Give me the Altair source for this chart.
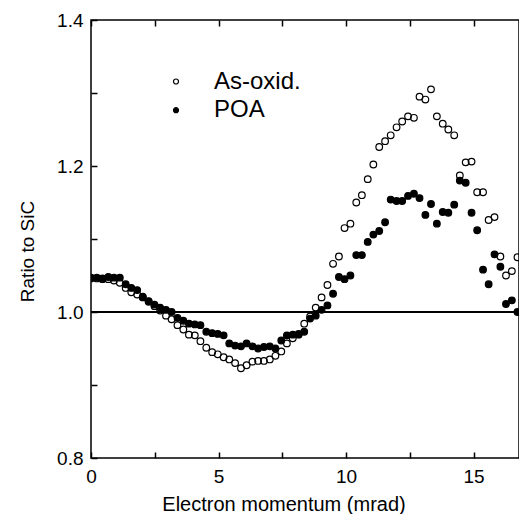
import altair as alt
import pandas as pd

FONT = "Liberation Sans, Arial, Helvetica, sans-serif"

# Electron momentum (mrad) grid
X = [0.00, 0.23, 0.45, 0.68, 0.90, 1.13, 1.36, 1.58, 1.81, 2.03,
     2.26, 2.49, 2.71, 2.94, 3.16, 3.39, 3.62, 3.84, 4.07, 4.29,
     4.52, 4.75, 4.97, 5.20, 5.42, 5.65, 5.88, 6.10, 6.33, 6.55,
     6.78, 7.01, 7.23, 7.46, 7.68, 7.91, 8.14, 8.36, 8.59, 8.81,
     9.04, 9.27, 9.49, 9.72, 9.94, 10.17, 10.40, 10.62, 10.85, 11.07,
     11.30, 11.53, 11.75, 11.98, 12.20, 12.43, 12.66, 12.88, 13.11, 13.33,
     13.56, 13.79, 14.01, 14.24, 14.46, 14.69, 14.92, 15.14, 15.37, 15.59,
     15.82, 16.05, 16.27, 16.50, 16.72, 16.95, 17.18]

AS_OXID = [1.046, 1.046, 1.045, 1.045, 1.043, 1.040, 1.033, 1.027, 1.024, 1.021,
           1.014, 1.008, 1.002, 0.995, 0.990, 0.982, 0.976, 0.969, 0.968, 0.960,
           0.951, 0.945, 0.942, 0.938, 0.935, 0.930, 0.923, 0.927, 0.932, 0.933,
           0.933, 0.935, 0.940, 0.946, 0.957, 0.964, 0.970, 0.984, 0.994, 1.006,
           1.020, 1.037, 1.066, 1.076, 1.115, 1.121, 1.150, 1.160, 1.182, 1.202,
           1.226, 1.234, 1.242, 1.253, 1.261, 1.268, 1.266, 1.295, 1.291, 1.305,
           1.268, 1.258, 1.250, 1.242, 1.187, 1.205, 1.206, 1.164, 1.164, 1.126,
           1.130, 1.076, 1.050, 1.056, 1.075, 1.025, 0.975]

POA = [1.047, 1.047, 1.046, 1.048, 1.047, 1.047, 1.038, 1.033, 1.030, 1.020,
       1.015, 1.010, 1.006, 1.003, 1.000, 0.992, 0.988, 0.984, 0.983, 0.982,
       0.973, 0.971, 0.970, 0.968, 0.957, 0.954, 0.953, 0.957, 0.953, 0.950,
       0.952, 0.953, 0.950, 0.961, 0.968, 0.969, 0.969, 0.973, 0.991, 0.995,
       1.003, 1.009, 1.025, 1.048, 1.045, 1.050, 1.078, 1.078, 1.096, 1.106,
       1.111, 1.123, 1.154, 1.152, 1.152, 1.159, 1.162, 1.156, 1.133, 1.148,
       1.121, 1.137, 1.136, 1.147, 1.180, 1.177, 1.136, 1.112, 1.058, 1.038,
       1.079, 1.062, 1.011, 1.016, 1.000, 0.991]

SERIES = ["As-oxid.", "POA"]
X_TICKS = [0, 2.5, 5, 7.5, 10, 12.5, 15]
Y_TICKS = [0.8, 0.9, 1.0, 1.1, 1.2, 1.3, 1.4]
REF_LINE = [1.0]
X_MAX = 16.78
Y_DOMAIN = [0.8, 1.4]

W, H = 428, 438
TICK = 6

rows = [{"x": x, "v": v, "s": SERIES[0]} for x, v in zip(X, AS_OXID)]
rows += [{"x": x, "v": v, "s": SERIES[1]} for x, v in zip(X, POA)]
df = pd.DataFrame(rows)

ref_df = pd.DataFrame({"x": [0.0] * len(REF_LINE), "x2": [X_MAX] * len(REF_LINE), "v": REF_LINE})

xs = alt.Scale(domain=[0, X_MAX], nice=False, zero=False)
ys = alt.Scale(domain=Y_DOMAIN, nice=False, zero=False)

XAXIS = alt.Axis(
    orient="bottom", offset=-TICK, domain=False,
    values=X_TICKS, labelExpr="datum.value % 5 === 0 ? format(datum.value, 'd') : ''",
    labelOverlap=False, title="Electron momentum (mrad)",
    labelFontSize=19, titleFontSize=20, labelPadding=9,
    ticks=True, tickSize=TICK, tickColor="black", tickWidth=1.5,
    labelFlush=False, titleX=192.5, titleY=52 + TICK,
    titleBaseline="alphabetic", titleAlign="center",
    labelFont=FONT, titleFont=FONT, labelColor="black", titleColor="black",
    grid=False, titleFontWeight="normal")
YAXIS = alt.Axis(
    orient="left", offset=-TICK, domain=False,
    values=Y_TICKS, labelExpr="round(datum.value * 10) % 2 === 0 ? format(datum.value, '.1f') : ''",
    labelOverlap=False, title="Ratio to SiC",
    labelFontSize=19, titleFontSize=19, labelPadding=8,
    ticks=True, tickSize=TICK, tickColor="black", tickWidth=1.5,
    labelFlush=False, titleX=-58 - TICK, titleY=231, titleAngle=270,
    titleAlign="center", titleBaseline="alphabetic",
    labelFont=FONT, titleFont=FONT, labelColor="black", titleColor="black",
    grid=False, titleFontWeight="normal")
XTOP = alt.Axis(
    orient="top", offset=-TICK, domain=False, labels=False, title=None,
    values=X_TICKS, ticks=True, tickSize=TICK, tickColor="black", tickWidth=1.5,
    grid=False)

points = alt.Chart(df).mark_point(
    shape="circle", filled=True, size=44, stroke="black", strokeWidth=1.2,
    opacity=1, clip=True
).encode(
    x=alt.X("x:Q", scale=xs, axis=XAXIS),
    y=alt.Y("v:Q", scale=ys, axis=YAXIS),
    fill=alt.Fill("s:N", scale=alt.Scale(domain=SERIES, range=["transparent", "black"]),
                  legend=alt.Legend(title=None, orient="none", legendX=73, legendY=49.5,
                                    labelFontSize=24, labelFont=FONT, labelColor="black",
                                    symbolType="circle", symbolSize=25,
                                    symbolStrokeColor="black", symbolStrokeWidth=1.2,
                                    labelOffset=26, rowPadding=4.7, padding=0)),
)

ref = alt.Chart(ref_df).mark_rule(color="black", strokeWidth=2).encode(
    x=alt.X("x:Q", scale=xs, axis=XTOP),
    x2="x2:Q",
    y=alt.Y("v:Q", scale=ys, axis=None),
)

chart = alt.layer(points, ref).resolve_axis(
    x="independent", y="independent"
).properties(
    width=W, height=H,
    background="white",
    autosize=alt.AutoSizeParams(type="none"),
    padding={"left": 83, "top": 12, "right": 0, "bottom": 56},
).configure_view(stroke="black", strokeWidth=1.5)

chart.save("out.html", embed_options={"renderer": "svg", "actions": False})
